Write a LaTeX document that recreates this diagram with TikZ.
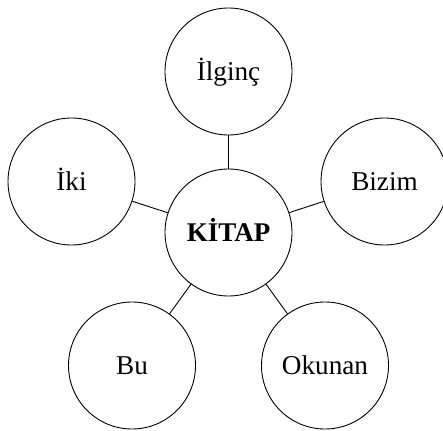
\documentclass[tikz,border=0pt]{standalone}
\usepackage{fontspec}
\setmainfont{Liberation Serif}
\begin{document}
\begin{tikzpicture}[x=1pt,y=-1pt,
  bubble/.style={draw=black,line width=0.9pt,circle,minimum size=127pt,inner sep=0pt,
    font=\fontsize{27.2}{31}\selectfont,text height=18pt,text depth=0pt},
  link/.style={draw=black,line width=0.9pt}]
\useasboundingbox (0,0) rectangle (443,430);
\node[bubble,font=\fontsize{27}{31}\selectfont\bfseries] (c) at (228.5,232.5) {KİTAP};
\node[bubble] (t) at (228.5,71.5) {İlginç};
\node[bubble] (l) at (71.5,181.5) {İki};
\node[bubble] (r) at (384.5,181.5) {Bizim};
\node[bubble] (bl) at (132,365.5) {Bu};
\node[bubble] (br) at (325,365.5) {Okunan};
\draw[link] (c) -- (t);
\draw[link] (c) -- (l);
\draw[link] (c) -- (r);
\draw[link] (c) -- (bl);
\draw[link] (c) -- (br);
\end{tikzpicture}
\end{document}
